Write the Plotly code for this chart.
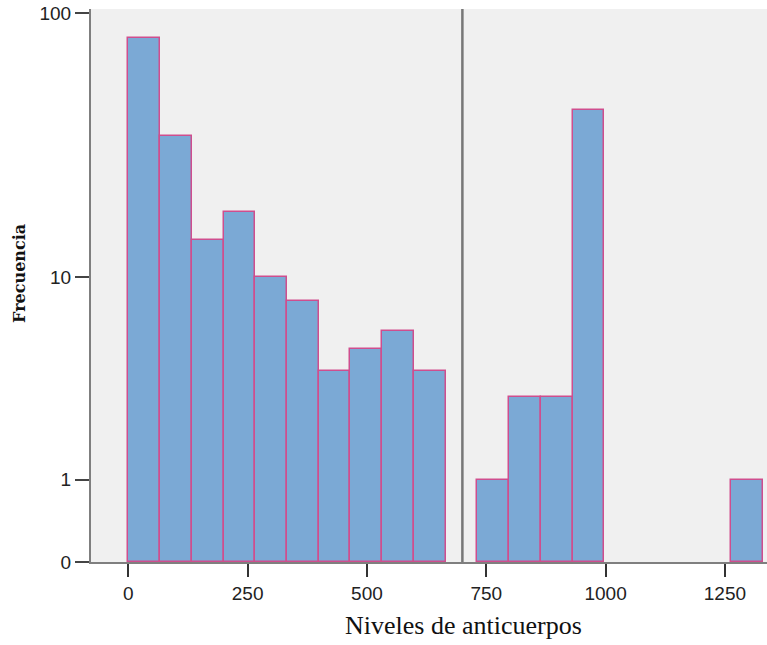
import math
import plotly.graph_objects as go

# Histogram data (bin width 66.5, starting at 0)
bin_width = 66.5
bin_starts = [0, 66.5, 133, 199.5, 266, 332.5, 399, 465.5, 532, 598.5,
              731.5, 798, 864.5, 931, 1263.5]
counts = [81, 35, 14, 18, 10, 8, 4, 5, 6, 4,
          1, 3, 3, 44, 1]
ref_line_x = 700

y_tick_labels = ["0", "1", "10", "100"]
y_tick_counts = [0, 1, 10, 100]
x_tick_vals = [0, 250, 500, 750, 1000, 1250]

centers = [s + bin_width / 2 for s in bin_starts]
heights = [math.log10(c + 1) for c in counts]
y_tick_vals = [math.log10(v + 1) for v in y_tick_counts]

fig = go.Figure()
fig.add_trace(go.Bar(
    x=centers, y=heights, width=[bin_width] * len(centers),
    marker=dict(color="#7ba9d5", line=dict(color="#cf4e8e", width=1.5)),
    customdata=counts, hovertemplate="%{customdata}<extra></extra>",
))

fig.add_shape(type="line", xref="x", yref="paper", x0=ref_line_x, x1=ref_line_x,
              y0=0, y1=1, line=dict(color="#777777", width=2.5), layer="above")

tick_font = dict(family="Liberation Sans", size=19, color="#222222")

fig.update_layout(
    width=767, height=645,
    margin=dict(l=91, r=0, t=9, b=83, pad=0),
    paper_bgcolor="white", plot_bgcolor="#f0f0f0",
    showlegend=False, bargap=0,
    xaxis=dict(range=[-78.1, 1338.2], tickvals=x_tick_vals,
               ticks="outside", ticklen=13, tickwidth=2, tickcolor="#333333",
               showline=True, linecolor="#7f7f7f", linewidth=2,
               showgrid=False, zeroline=False, tickfont=tick_font),
    yaxis=dict(range=[0, 2.0205], tickvals=y_tick_vals, ticktext=y_tick_labels,
               ticks="outside", ticklen=14, tickwidth=2, tickcolor="#444444",
               showline=True, linecolor="#7f7f7f", linewidth=2,
               showgrid=False, zeroline=False, tickfont=tick_font),
    annotations=[
        dict(text="Niveles de anticuerpos", xref="paper", yref="paper",
             x=0.551, y=-0.114, xanchor="center", yanchor="middle",
             showarrow=False,
             font=dict(family="Liberation Serif", size=26, color="#111111")),
        dict(text="<b>Frecuencia</b>", xref="paper", yref="paper",
             x=-0.105, y=0.521, xanchor="center", yanchor="middle",
             textangle=-90, showarrow=False,
             font=dict(family="DejaVu Serif", size=16, color="#111111")),
    ],
)

fig.write_html("out.html", config={"displayModeBar": False},
               post_script="document.body.style.margin='0';document.body.style.overflow='hidden';")
